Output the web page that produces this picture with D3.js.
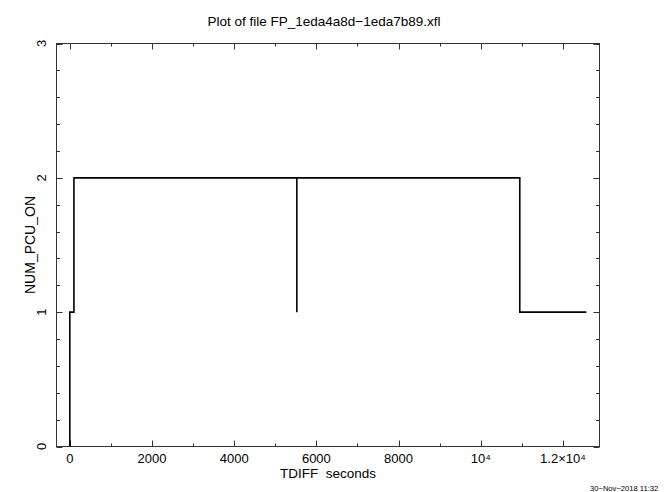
<!DOCTYPE html>
<html>
<head>
<meta charset="utf-8">
<script src="https://cdn.jsdelivr.net/npm/d3@7"></script>
<style>
  body { margin: 0; background: #fff; }
  svg { display: block; font-family: "Liberation Sans", Arial, sans-serif; }
</style>
</head>
<body>
<svg id="chart" width="665" height="492"></svg>
<script>
// step data (time in s, number of PCUs on)
const times  = [0, 0, 100, 5525, 5525, 10950, 12570];
const values = [0, 1, 2,   1,    2,    1,     1];

const xMajor = [0, 2000, 4000, 6000, 8000, 10000, 12000];
const xLabels = ["0", "2000", "4000", "6000", "8000", "10⁴", "1.2×10⁴"];
const yMajor = [0, 1, 2, 3];

const svg = d3.select("#chart");
const margin = { left: 56.5, right: 599.5, top: 43.5, bottom: 446.5 };

const x = d3.scaleLinear().domain([-324, 12890]).range([margin.left, margin.right]);
const y = d3.scaleLinear().domain([0, 3]).range([margin.bottom, margin.top]);

const pts = times.map((t, i) => ({ t: t, v: values[i] }));

// title
svg.append("text")
  .attr("x", 324).attr("y", 26)
  .attr("text-anchor", "middle")
  .style("font-size", "13.5px")
  .text("Plot of file FP_1eda4a8d−1eda7b89.xfl");

// frame
svg.append("rect")
  .attr("x", margin.left).attr("y", margin.top)
  .attr("width", margin.right - margin.left)
  .attr("height", margin.bottom - margin.top)
  .attr("fill", "none").attr("stroke", "#333").attr("stroke-width", 1);

const ax = svg.append("g").attr("stroke", "#333").attr("stroke-width", 1);

// x ticks, bottom and top, pointing in
const xMinor = d3.range(-0, 13000, 1000).filter(v => v % 2000 !== 0);
xMajor.forEach(v => {
  const px = Math.round(x(v)) + 0.5;
  ax.append("line").attr("x1", px).attr("x2", px).attr("y1", margin.bottom).attr("y2", margin.bottom - 6);
  ax.append("line").attr("x1", px).attr("x2", px).attr("y1", margin.top).attr("y2", margin.top + 6);
});
xMinor.forEach(v => {
  const px = Math.round(x(v)) + 0.5;
  ax.append("line").attr("x1", px).attr("x2", px).attr("y1", margin.bottom).attr("y2", margin.bottom - 3);
  ax.append("line").attr("x1", px).attr("x2", px).attr("y1", margin.top).attr("y2", margin.top + 3);
});

// y ticks, left and right
const yMinor = d3.range(0, 3.001, 0.2).filter(v => Math.abs(v - Math.round(v)) > 0.01);
yMajor.forEach(v => {
  const py = Math.round(y(v)) + 0.5;
  ax.append("line").attr("x1", margin.left).attr("x2", margin.left + 6).attr("y1", py).attr("y2", py);
  ax.append("line").attr("x1", margin.right).attr("x2", margin.right - 6).attr("y1", py).attr("y2", py);
});
yMinor.forEach(v => {
  const py = Math.round(y(v)) + 0.5;
  ax.append("line").attr("x1", margin.left).attr("x2", margin.left + 3.5).attr("y1", py).attr("y2", py);
  ax.append("line").attr("x1", margin.right).attr("x2", margin.right - 3.5).attr("y1", py).attr("y2", py);
});

// x tick labels
svg.selectAll(".xl").data(xMajor).enter().append("text")
  .attr("x", (d) => x(d))
  .attr("y", 463)
  .attr("text-anchor", "middle")
  .style("font-size", "13px")
  .text((d, i) => xLabels[i]);

// y tick labels, rotated
svg.selectAll(".yl").data(yMajor).enter().append("text")
  .attr("transform", (d) => `translate(46,${y(d)}) rotate(-90)`)
  .attr("text-anchor", "middle")
  .style("font-size", "13px")
  .text((d) => d);

// axis titles
svg.append("text")
  .attr("x", 328).attr("y", 478)
  .attr("text-anchor", "middle")
  .style("font-size", "13.5px")
  .style("white-space", "pre")
  .text("TDIFF  seconds");

svg.append("text")
  .attr("transform", `translate(35,245) rotate(-90)`)
  .attr("text-anchor", "middle")
  .style("font-size", "14px")
  .text("NUM_PCU_ON");

// date stamp
svg.append("text")
  .attr("x", 590).attr("y", 491)
  .style("font-size", "7.6px")
  .text("30−Nov−2018 11:32");

// the step line
const line = d3.line()
  .x((d) => x(d.t))
  .y((d) => y(d.v))
  .curve(d3.curveStepAfter);

svg.append("path")
  .datum(pts)
  .attr("d", line)
  .attr("fill", "none")
  .attr("stroke", "#000")
  .attr("stroke-width", 1.6);
</script>
</body>
</html>
